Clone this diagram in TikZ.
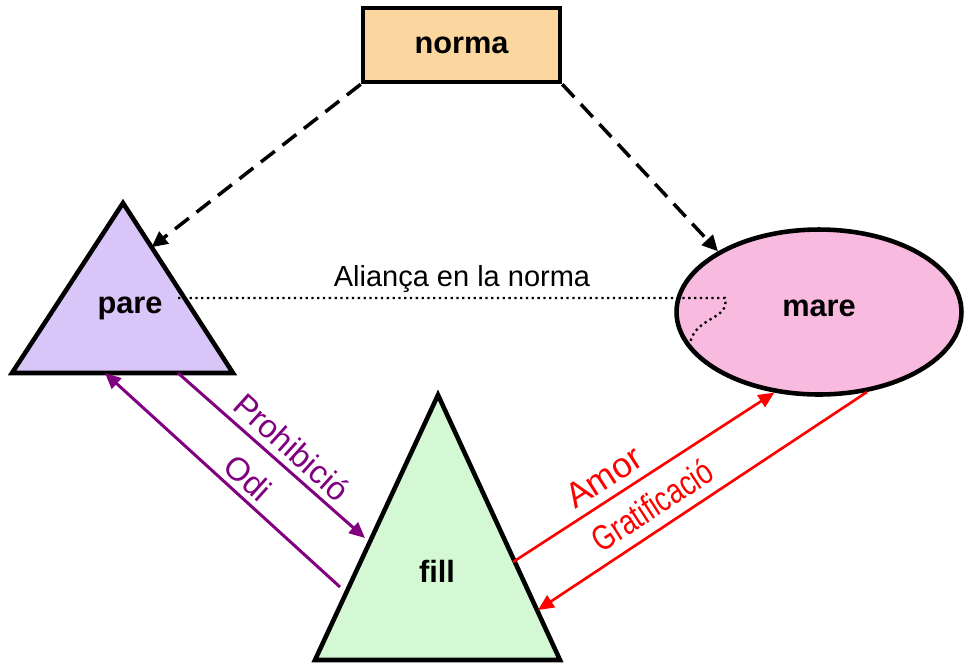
\documentclass[tikz,border=0pt]{standalone}
\usepackage{fontspec}
\setmainfont{Liberation Sans}
\usetikzlibrary{calc,arrows.meta,shapes.geometric}
\definecolor{normafill}{HTML}{FCD69F}
\definecolor{parefill}{HTML}{D9C5F7}
\definecolor{marefill}{HTML}{F8BADF}
\definecolor{fillfill}{HTML}{D4F8D4}
\definecolor{lila}{HTML}{800080}
\definecolor{vermell}{HTML}{FF0000}
\tikzset{
  shp/.style={draw=black, line width=2.6pt, line join=miter},
  who/.style={font=\bfseries\fontsize{17.5}{20}\selectfont},
  norm/.style={draw=black, line width=2pt, dash pattern=on 10pt off 5.5pt, -{Triangle[length=9pt,width=8.5pt]}},
  pact/.style={draw=black, line width=1.3pt, dotted},
  lil/.style={draw=lila, line width=1.7pt, -{Triangle[length=9pt,width=8pt]}},
  roig/.style={draw=vermell, line width=1.5pt, -{Triangle[length=9pt,width=8pt]}},
  labk/.style={text=black, font=\fontsize{16.5}{18}\selectfont},
  labl/.style={text=lila, font=\fontsize{18.5}{20}\selectfont},
  labr/.style={text=vermell, font=\fontsize{20}{22}\selectfont},
}
\begin{document}
\begin{tikzpicture}[x=0.02cm, y=-0.02cm]
  \useasboundingbox (0,0) rectangle (964,664);
  % triangles
  \coordinate (pA) at (123,203);
  \coordinate (pL) at (12,373);
  \coordinate (pR) at (233,373);
  \coordinate (fA) at (438,395);
  \coordinate (fL) at (315,660);
  \coordinate (fR) at (560,660);
  \filldraw[shp, fill=parefill] (pA) -- (pR) -- (pL) -- cycle;
  \filldraw[shp, fill=fillfill] (fA) -- (fR) -- (fL) -- cycle;
  \node[who] (pare) at (130,308) {pare};
  \node[who] (fill) at (437,571) {fill};
  \node[shp, fill=normafill, minimum width=3.94cm, minimum height=1.48cm, who] (norma) at (461.5,45) {norma};
  \node[shp, ellipse, fill=marefill, minimum width=5.7cm, minimum height=3.3cm, who] (mare) at (819,312) {\raisebox{4pt}{mare}};
  % norma
  \coordinate (pN) at ($(pA)!0.26!(pR)$);
  \draw[norm] (norma.south west) -- (pN);
  \draw[norm] (norma.south east) -- (mare.149);
  \coordinate (al1) at (178,298);
  \coordinate (al2) at (725,298);
  \coordinate (al3) at (690,343);
  \draw[pact] (al1) -- (al2) .. controls (730,320) and (696,316) .. (al3);
  \node[labk] (alianca) at (462,279) {Aliança en la norma};
  % pare - fill
  \coordinate (pr1) at (178,373);
  \coordinate (pr2) at (365,538);
  \coordinate (od1) at (340,587);
  \coordinate (od2) at (105,373);
  \draw[lil] (pr1) -- (pr2);
  \draw[lil] (od1) -- (od2);
  \node[labl, rotate=-42] (prohib) at (292,447) {Prohibició};
  \node[labl, rotate=-42] (odi) at (248,478) {Odi};
  % mare - fill
  \coordinate (am1) at (513,562);
  \coordinate (gr2) at (538,610);
  \draw[roig] (am1) -- (mare.241);
  \draw[roig] (mare.301) -- (gr2);
  \node[labr, rotate=33] (amor) at (604,477) {Amor};
  \node[labr, rotate=33] (grat) at (652,505) {\scalebox{0.78}[1]{Gratificació}};
\end{tikzpicture}
\end{document}
